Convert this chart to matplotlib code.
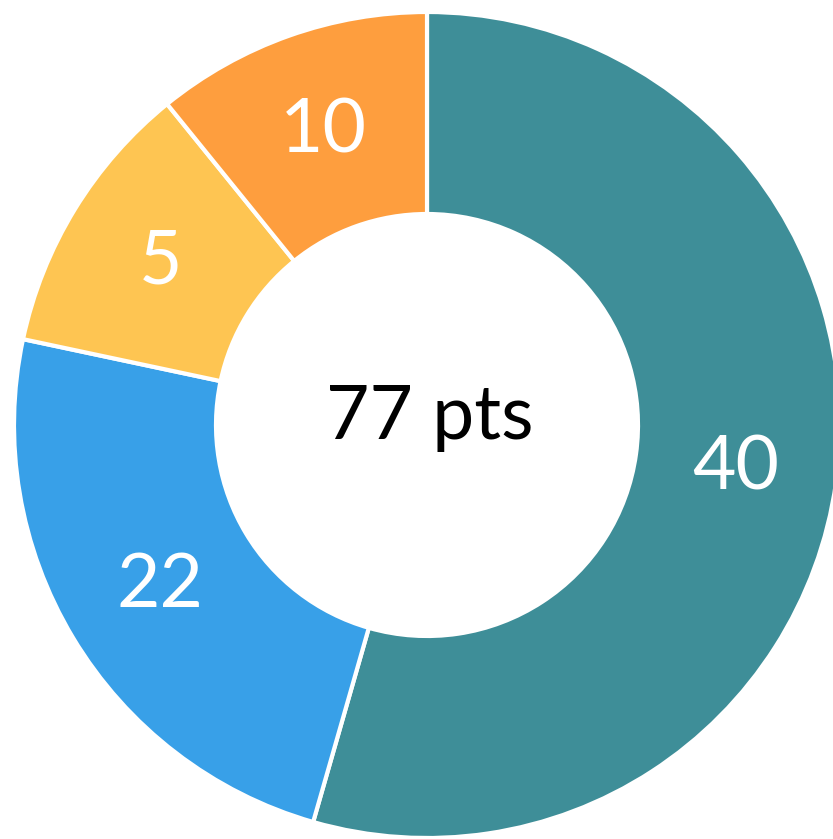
import matplotlib.pyplot as plt

# point values shown on the ring, and the share of the ring each slice takes
# (the arcs in the picture are not proportional to the labels, so read separately)
slice_labels = ["40", "22", "5", "10"]
point_values = [40, 22, 5, 10]
arc_shares = [196, 86, 39, 39]
slice_colors = ["#3E8E98", "#38A0E8", "#FEC552", "#FE9E3E"]

fig = plt.figure(figsize=(8.33, 8.39), dpi=100)
ax = fig.add_axes([0, 0, 1, 1])

outer_r = 413
inner_r = 211
ring_w = outer_r - inner_r

wedges, texts = ax.pie(
    arc_shares,
    labels=slice_labels,
    colors=slice_colors,
    startangle=90,
    counterclock=False,
    center=(427, 414),
    radius=outer_r,
    labeldistance=(inner_r + ring_w / 2) / outer_r,
    wedgeprops=dict(width=ring_w, edgecolor="white", linewidth=3),
    textprops=dict(color="white", fontsize=54, family=["Lato", "DejaVu Sans"]),
)
for t in texts:
    t.set_horizontalalignment("center")
    t.set_verticalalignment("center")

ax.text(430, 400, f"{sum(point_values)} pts", ha="center", va="baseline",
        fontsize=54, color="black", family=["Lato", "DejaVu Sans"])

ax.set_xlim(0, 833)
ax.set_ylim(0, 839)
ax.set_aspect("equal")
ax.axis("off")

fig.savefig("out.png", dpi=100, facecolor="white")
